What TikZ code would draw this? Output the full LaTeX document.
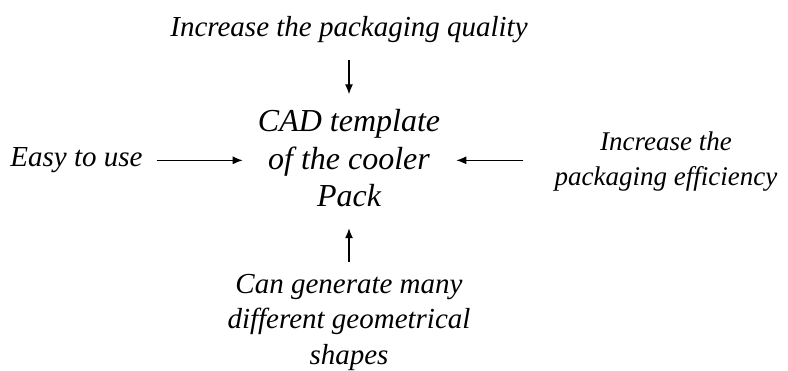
\documentclass[tikz,border=0pt]{standalone}
\usepackage{fontspec}
\setmainfont{Liberation Serif}
\usetikzlibrary{arrows.meta}
\begin{document}
\begin{tikzpicture}[x=1pt,y=-1pt,
  lbl/.style={font=\fontsize{29}{35.5}\selectfont\itshape, inner sep=0pt, align=center},
  lblsmall/.style={font=\fontsize{27}{35}\selectfont\itshape, inner sep=0pt, align=center},
  big/.style={font=\fontsize{32}{37.5}\selectfont\itshape, inner sep=0pt, align=center},
  arr/.style={-{Latex[length=10pt,width=8pt]}, line width=1.2pt}]
\useasboundingbox (0,0) rectangle (788,370);
\node[lbl, anchor=base] (top) at (349,36.7) {Increase the packaging quality};
\node[big, anchor=base] (cad) at (349,206.7) {CAD template\\of the cooler\\Pack};
\node[lbl, anchor=base] (easy) at (76.5,166.7) {Easy to use};
\node[lblsmall, anchor=base] (eff) at (666,185) {Increase the\\packaging efficiency};
\node[lbl, anchor=base] (gen) at (349,364) {Can generate many\\different geometrical\\shapes};
\draw[arr, shorten <=17pt, shorten >=15pt] (top.south) -- (top.south |- cad.north);
\draw[arr, shorten <=12pt, shorten >=21pt] (gen.north) -- (gen.north |- cad.south);
\draw[arr, shorten <=14pt, shorten >=15pt] (easy.east) -- (easy.east -| cad.west);
\draw[arr, shorten <=31pt, shorten >=16pt] (eff.west |- easy.east) -- (easy.east -| cad.east);
\end{tikzpicture}
\end{document}
